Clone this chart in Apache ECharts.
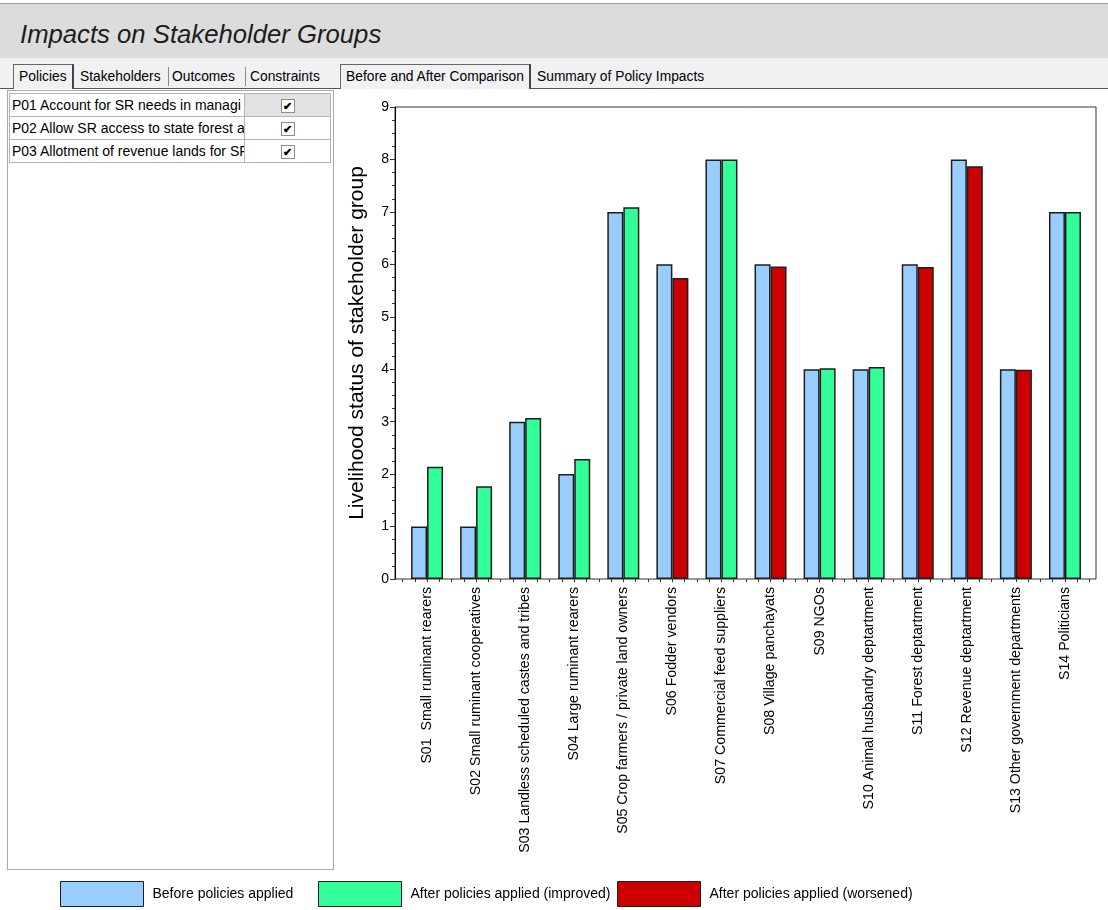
<!DOCTYPE html>
<html>
<head>
<meta charset="utf-8">
<title>Impacts on Stakeholder Groups</title>
<script src="https://cdn.jsdelivr.net/npm/echarts@6/dist/echarts.min.js"></script>
<style>
  html, body { margin: 0; padding: 0; background: #ffffff; }
  body { width: 1108px; height: 910px; position: relative; overflow: hidden;
         font-family: Arial, "Liberation Sans", sans-serif; color: #000; }
  .topline { position: absolute; left: 0; top: 3px; width: 1108px; height: 1px; background: #9a9a9a; }
  .titlebar { position: absolute; left: 0; top: 4px; width: 1108px; height: 54px; background: #dcdcdc; }
  .titlebar span { position: absolute; left: 20px; top: 16px; font-size: 25.7px; font-style: italic; color: #1c1c1c; }
  .tabrow { position: absolute; left: 0; top: 58px; width: 1108px; height: 31px; background: #f1f1f3; }
  .tabline { position: absolute; height: 1px; background: #555; top: 88px; }
  .tab { position: absolute; top: 65px; height: 24px; font-size: 13.8px; line-height: 24px; white-space: nowrap; }
  .tab.sel { top: 64px; border-left: 1px solid #666; border-top: 1px solid #666; border-right: 2px solid #444;
             background: #f1f1f3; height: 25px; box-sizing: border-box; padding: 0 5px; }
  .sep { position: absolute; top: 67px; width: 1px; height: 19px; background: #8a8a8a; }
  .panel { position: absolute; left: 7px; top: 90px; width: 325px; height: 778px;
           border: 1px solid #a8a8a8; background: #fff; }
  table.pol { position: absolute; left: 1px; top: 2px; border-collapse: collapse; table-layout: fixed; }
  table.pol td { border: 1px solid #b4b4b4; height: 22px; padding: 0; font-size: 14px; }
  table.pol td.txt { width: 232px; padding-left: 2px; white-space: nowrap; overflow: hidden; max-width: 232px; }
  table.pol td.chk { width: 85px; text-align: center; }
  table.pol td.chk.hl { background: #e2e2e4; }
  .box { display: inline-block; width: 12px; height: 12px; border: 1px solid #8c8c8c; background: #fff;
         font-size: 11px; line-height: 12px; text-align: center; vertical-align: middle; font-weight: bold; }
  #chart { position: absolute; left: 0; top: 0; width: 1108px; height: 910px; }
</style>
</head>
<body>
<div class="topline"></div>
<div class="titlebar"><span>Impacts on Stakeholder Groups</span></div>
<div class="tabrow"></div>

<div class="tabline" style="left:0;width:13px"></div>
<div class="tab sel" style="left:13px;width:61px">Policies</div>
<div class="tabline" style="left:74px;width:262px"></div>
<div class="tab" style="left:80px">Stakeholders</div>
<div class="sep" style="left:168px"></div>
<div class="tab" style="left:172px">Outcomes</div>
<div class="sep" style="left:245px"></div>
<div class="tab" style="left:250px">Constraints</div>

<div class="tabline" style="left:336px;width:4px"></div>
<div class="tab sel" style="left:340px;width:191px">Before and After Comparison</div>
<div class="tabline" style="left:531px;width:577px"></div>
<div class="tab" style="left:537px">Summary of Policy Impacts</div>

<div class="panel">
  <table class="pol">
    <tr><td class="txt">P01 Account for SR needs in managi</td><td class="chk hl"><span class="box">&#10004;</span></td></tr>
    <tr><td class="txt">P02 Allow SR access to state forest a</td><td class="chk"><span class="box">&#10004;</span></td></tr>
    <tr><td class="txt">P03 Allotment of revenue lands for SF</td><td class="chk"><span class="box">&#10004;</span></td></tr>
  </table>
</div>

<div id="chart"></div>

<script>
// Stakeholder groups shown along the category axis
const stakeholders = [
  'S01  Small ruminant rearers',
  'S02 Small ruminant cooperatives',
  'S03 Landless scheduled castes and tribes',
  'S04 Large ruminant rearers',
  'S05 Crop farmers / private land owners',
  'S06 Fodder vendors',
  'S07 Commercial feed suppliers',
  'S08 Village panchayats',
  'S09 NGOs',
  'S10 Animal husbandry deptartment',
  'S11 Forest deptartment',
  'S12 Revenue deptartment',
  'S13 Other government departments',
  'S14 Politicians'
];

// Livelihood status before and after the selected policies are applied
const beforeValues = [1, 1, 3, 2, 7, 6, 8, 6, 4, 4, 6, 8, 4, 7];
const afterValues  = [2.14, 1.77, 3.07, 2.29, 7.09, 5.74, 8, 5.96, 4.02, 4.04, 5.95, 7.87, 3.99, 7];

const seriesNames = [
  'Before policies applied',
  'After policies applied (improved)',
  'After policies applied (worsened)'
];
const seriesColors = ['#99ccff', '#33ff99', '#cc0000'];

// Split the "after" values into improved / worsened so each gets its own colour
const improvedValues = afterValues.map((v, i) => (v >= beforeValues[i] ? v : '-'));
const worsenedValues = afterValues.map((v, i) => (v < beforeValues[i] ? v : '-'));

const FONT = 'Arial, "Liberation Sans", sans-serif';
const barBorder = { borderColor: '#1e1e1e', borderWidth: 1.5 };

const chart = echarts.init(document.getElementById('chart'), null, { renderer: 'canvas' });

const legendPos = [60, 318, 617];

const option = {
  backgroundColor: 'transparent',
  animation: false,
  legend: seriesNames.map((name, i) => ({
    data: [name],
    left: legendPos[i],
    top: 881,
    padding: 0,
    itemWidth: 83,
    itemHeight: 25,
    icon: 'rect',
    selectedMode: false,
    itemStyle: { borderColor: '#1e1e1e', borderWidth: 1 },
    textStyle: { fontFamily: FONT, fontSize: 14, color: '#000', padding: [0, 0, 0, 4] }
  })),
  grid: [
    // outer plot frame with the value axis
    { left: 395, top: 107, width: 701, height: 472, show: true,
      borderColor: '#333', borderWidth: 1, backgroundColor: '#fff', containLabel: false },
    // inner area holding the bars (inset from the frame on both sides)
    { left: 402.5, top: 107, width: 687, height: 472, containLabel: false }
  ],
  xAxis: [
    { gridIndex: 0, type: 'value', min: 0, max: 1, show: false },
    { gridIndex: 1, type: 'category', data: stakeholders, position: 'bottom',
      axisLine: { show: false }, axisTick: { show: false },
      axisLabel: { interval: 0, rotate: 90, fontFamily: FONT, fontSize: 14.2, color: '#000', margin: 8 } },
    // tick marks at category boundaries and quarter steps
    { gridIndex: 1, type: 'value', min: 0, max: stakeholders.length, interval: 1, position: 'bottom',
      axisLine: { show: false }, axisLabel: { show: false }, splitLine: { show: false },
      axisTick: { show: true, length: 3, lineStyle: { color: '#333' } },
      minorTick: { show: true, splitNumber: 4, length: 3, lineStyle: { color: '#333' } } }
  ],
  yAxis: [
    { gridIndex: 0, type: 'value', min: 0, max: 9, interval: 1,
      name: 'Livelihood status of stakeholder group', nameLocation: 'middle', nameGap: 27,
      nameTextStyle: { fontFamily: FONT, fontSize: 21, color: '#000' },
      axisLine: { show: true, lineStyle: { color: '#000', width: 1 } },
      axisTick: { show: true, length: 5, lineStyle: { color: '#333' } },
      minorTick: { show: true, splitNumber: 4, length: 3, lineStyle: { color: '#333' } },
      splitLine: { show: false },
      axisLabel: { fontFamily: FONT, fontSize: 14, color: '#000', margin: 6 } },
    { gridIndex: 1, type: 'value', min: 0, max: 9, show: false }
  ],
  series: [
    { name: seriesNames[0], type: 'bar', xAxisIndex: 1, yAxisIndex: 1,
      barWidth: 16, barGap: '0%', data: beforeValues,
      itemStyle: Object.assign({ color: seriesColors[0] }, barBorder) },
    { name: seriesNames[1], type: 'bar', xAxisIndex: 1, yAxisIndex: 1, stack: 'after',
      barWidth: 16, barGap: '0%', data: improvedValues,
      itemStyle: Object.assign({ color: seriesColors[1] }, barBorder) },
    { name: seriesNames[2], type: 'bar', xAxisIndex: 1, yAxisIndex: 1, stack: 'after',
      barWidth: 16, barGap: '0%', data: worsenedValues,
      itemStyle: Object.assign({ color: seriesColors[2] }, barBorder) }
  ]
};

chart.setOption(option);
</script>
</body>
</html>
